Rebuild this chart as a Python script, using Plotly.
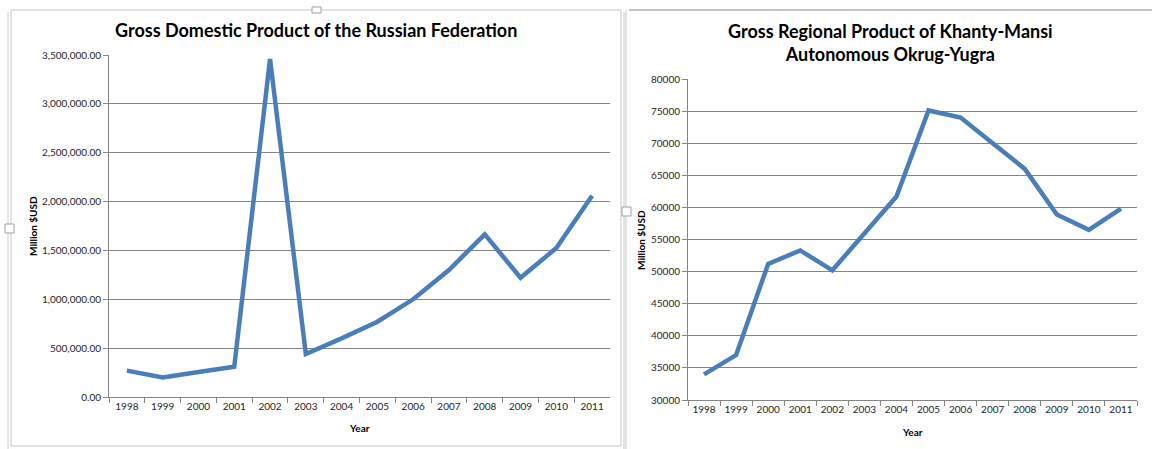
import plotly.graph_objects as go

years = ["1998", "1999", "2000", "2001", "2002", "2003", "2004",
         "2005", "2006", "2007", "2008", "2009", "2010", "2011"]
russia_gdp = [270000, 200000, 255000, 310000, 3460000, 440000, 600000,
              770000, 1000000, 1300000, 1665000, 1220000, 1525000, 2060000]
khmao_grp = [34000, 37000, 51200, 53300, 50200, 56000, 61700,
             75100, 74000, 70000, 66000, 58900, 56500, 59800]

left_title = "Gross Domestic Product of the Russian Federation"
right_title = "Gross Regional Product of Khanty-Mansi<br>Autonomous Okrug-Yugra"
y_title = "Million $USD"
x_title = "Year"

W, H = 1152, 449
LINE = "#4A7EBB"
GRID = "#868686"
FONT = "Lato, Carlito, Calibri, sans-serif"

def px(x):
    return x / W

def py(y):
    return 1 - y / H

fig = go.Figure()
fig.add_trace(go.Scatter(x=years, y=russia_gdp, mode="lines",
                         line=dict(color=LINE, width=4.5),
                         xaxis="x", yaxis="y", showlegend=False))
fig.add_trace(go.Scatter(x=years, y=khmao_grp, mode="lines",
                         line=dict(color=LINE, width=4.5),
                         xaxis="x2", yaxis="y2", showlegend=False))

xcommon = dict(type="category", tickson="boundaries", ticks="outside", ticklen=5,
               tickcolor=GRID, showline=True, linecolor=GRID, linewidth=1,
               showgrid=False, range=[-0.5, 13.5], fixedrange=True, tickangle=0,
               tickfont=dict(family=FONT, size=10, color="#262626"))
ycommon = dict(ticks="outside", ticklen=5, tickcolor=GRID, showline=True,
               linecolor=GRID, linewidth=1, showgrid=True, gridcolor=GRID,
               gridwidth=1, zeroline=False,
               tickfont=dict(family=FONT, size=10, color="#262626"))

fig.update_layout(
    width=W, height=H,
    margin=dict(l=0, r=0, t=0, b=0, autoexpand=False),
    paper_bgcolor="white", plot_bgcolor="white",
    xaxis=dict(domain=[px(109), px(610)], anchor="y", **xcommon),
    yaxis=dict(domain=[py(397), py(55)], anchor="x", range=[0, 3500000],
               dtick=500000, tickformat=",.2f", **ycommon),
    xaxis2=dict(domain=[px(688), px(1137)], anchor="y2", **xcommon),
    yaxis2=dict(domain=[py(400), py(79)], anchor="x2", range=[30000, 80000],
                dtick=5000, tickformat="d", **ycommon),
)

annots = [
    dict(x=px(316), y=py(30), text="<b>" + left_title + "</b>", font=dict(size=18)),
    dict(x=px(890), y=py(42), text="<b>" + right_title + "</b>", font=dict(size=18)),
    dict(x=px(33), y=py(226), text="<b>" + y_title + "</b>", font=dict(size=10), textangle=-90),
    dict(x=px(641), y=py(240), text="<b>" + y_title + "</b>", font=dict(size=10), textangle=-90),
    dict(x=px(359), y=py(428), text="<b>" + x_title + "</b>", font=dict(size=10)),
    dict(x=px(912), y=py(432), text="<b>" + x_title + "</b>", font=dict(size=10)),
]
for a in annots:
    a.update(xref="paper", yref="paper", showarrow=False,
             xanchor="center", yanchor="middle")
    a["font"].update(family=FONT, color="#000000")
    fig.add_annotation(**a)

shapes = [
    dict(type="rect", x0=px(11), x1=px(621), y0=py(446), y1=py(10),
         line=dict(color="#C8C8C8", width=1)),
    dict(type="line", x0=px(626), x1=px(626), y0=py(449), y1=py(10),
         line=dict(color="#C8C8C8", width=1)),
    dict(type="line", x0=px(629), x1=px(1152), y0=py(10), y1=py(10),
         line=dict(color="#8C8C8C", width=1)),
    dict(type="line", x0=px(624), x1=px(624), y0=py(449), y1=py(12),
         line=dict(color="#C8C8C8", width=1)),
    dict(type="line", x0=px(8), x1=px(8), y0=py(449), y1=py(12),
         line=dict(color="#D0D0D0", width=1)),
    dict(type="rect", x0=px(5), x1=px(14), y0=py(233), y1=py(224),
         line=dict(color="#A0A0A0", width=1), fillcolor="white"),
    dict(type="rect", x0=px(312), x1=px(321), y0=py(13), y1=py(7),
         line=dict(color="#A0A0A0", width=1), fillcolor="white"),
    dict(type="rect", x0=px(622), x1=px(631), y0=py(216), y1=py(207),
         line=dict(color="#A0A0A0", width=1), fillcolor="white"),
]
for s in shapes:
    s.update(xref="paper", yref="paper", layer="above")
    fig.add_shape(**s)

fig.write_html("out.html", config={"displayModeBar": False},
               post_script="document.body.style.margin='0';document.body.style.padding='0';document.body.style.overflow='hidden';")
